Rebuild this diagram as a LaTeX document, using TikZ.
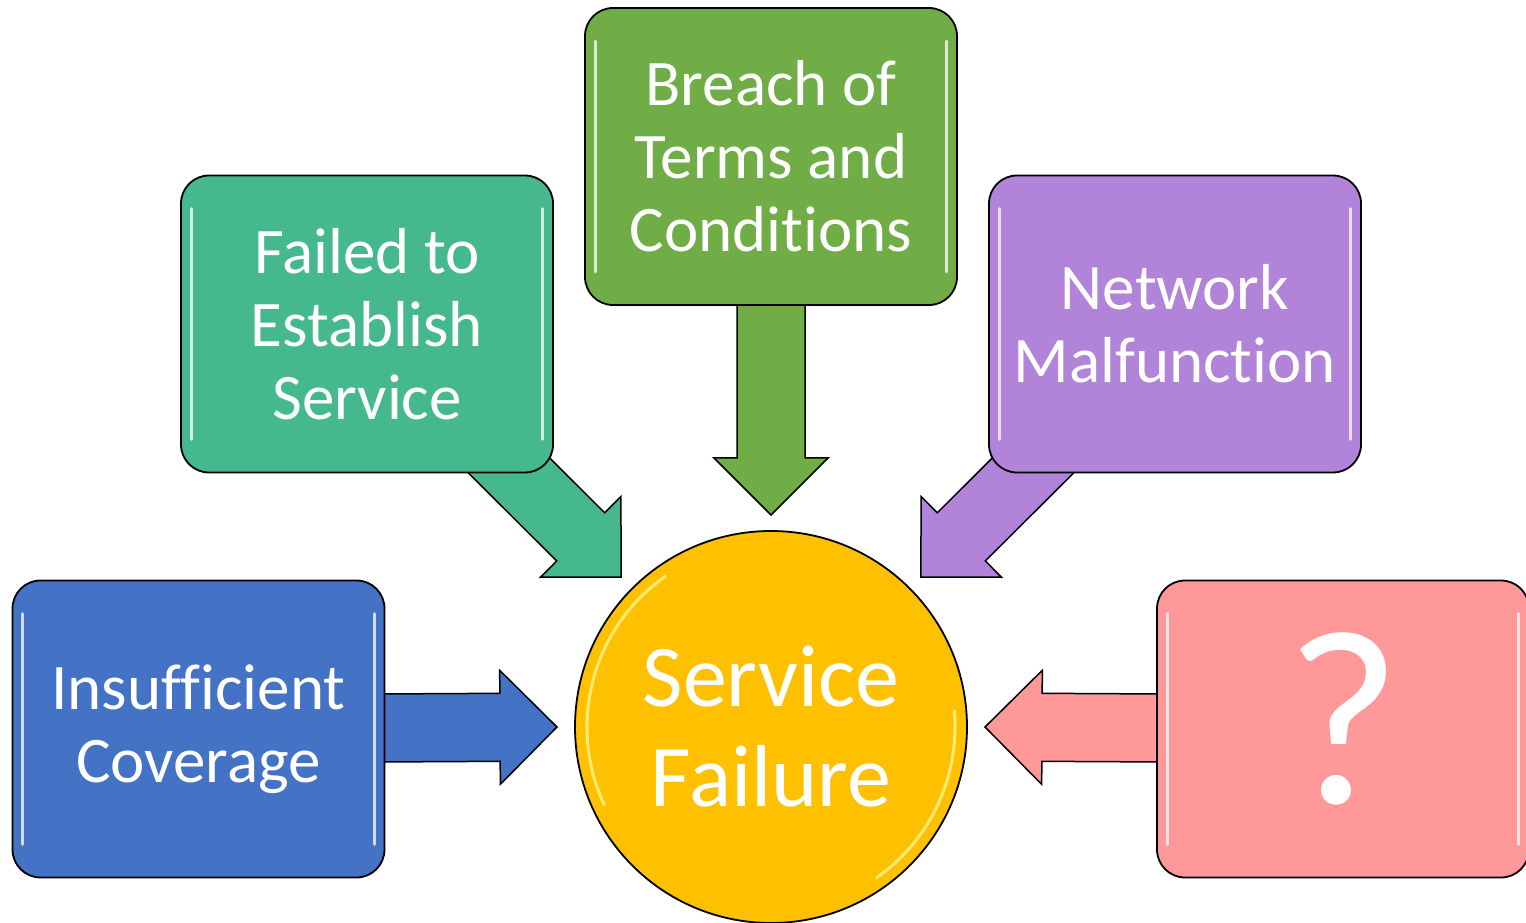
\documentclass[tikz,border=0pt]{standalone}
\usepackage{fontspec}
\setmainfont{Carlito}[Ligatures={NoCommon,NoContextual}, Contextuals=NoAlternate]
\usetikzlibrary{calc}
\definecolor{cblue}{HTML}{4472C4}
\definecolor{cteal}{HTML}{45B98D}
\definecolor{cgreen}{HTML}{70AD47}
\definecolor{cpurple}{HTML}{B183D9}
\definecolor{cpink}{HTML}{FF9999}
\definecolor{cyellow}{HTML}{FFC000}
\newcommand\tbreak{\kern0pt\relax}
\tikzset{
  box/.style={draw=black, line width=1.8pt, rounded corners=28pt, minimum width=372pt,
    minimum height=297pt, inner sep=0pt, align=center, text=white,
    font=\fontsize{65}{73}\selectfont},
  hub/.style={circle, draw=black, line width=1.8pt, fill=cyellow, minimum size=392pt,
    inner sep=0pt, align=center, text=white, font=\fontsize{88}{100}\selectfont},
  arrowline/.style={draw=black, line width=1.5pt, line join=miter},
  shine/.style={white, opacity=0.75, line width=3pt, line cap=round},
  hubshine/.style={yellow!40!white, opacity=0.75, line width=3pt, line cap=round}
}
\newcommand\blockarrow[3]{%
  \filldraw[arrowline, fill=#1] let \p1=($(#3)-(#2)$), \n1={atan2(\y1,\x1)},
    \n2={veclen(\x1,\y1)} in
    (#3) -- ++(\n1+135:80.61) -- ++(\n1-90:23) -- ++(\n1+180:\n2-57)
    -- ++(\n1-90:68) -- ++(\n1:\n2-57) -- ++(\n1-90:23) -- cycle;}
\newcommand\boxshine[1]{%
  \draw[shine] ($(#1.north west)+(11,-34)$) -- ($(#1.south west)+(11,34)$);
  \draw[shine] ($(#1.north east)+(-11,-34)$) -- ($(#1.south east)+(-11,34)$);}
\begin{document}
\begin{tikzpicture}[x=1pt,y=1pt]
\useasboundingbox (0,0) rectangle (1526,922);
% hub and arrow tips
\node[hub] (sf) at (771,195) {Service\\Failure};
\coordinate (t1) at ($(sf.center)+(180:214)$);
\coordinate (t2) at ($(sf.center)+(135:212)$);
\coordinate (t3) at ($(sf.center)+(90:212)$);
\coordinate (t4) at ($(sf.center)+(45:212)$);
\coordinate (t5) at ($(sf.center)+(0:214)$);
\draw[hubshine] ($(sf.center)+(125:184)$) arc[start angle=125, end angle=205, radius=184];
\draw[hubshine] ($(sf.center)+(-55:184)$) arc[start angle=-55, end angle=5, radius=184];
% box positions (for arrows, boxes drawn afterwards)
\coordinate (c1) at (198.5,193);
\coordinate (c2) at (367,598);
\coordinate (c3) at (771,765.5);
\coordinate (c4) at (1175,598);
\coordinate (c5) at (1343,193);
\blockarrow{cblue}{c1}{t1}
\blockarrow{cteal}{c2}{t2}
\blockarrow{cgreen}{c3}{t3}
\blockarrow{cpurple}{c4}{t4}
\blockarrow{cpink}{c5}{t5}
% boxes
\node[box, fill=cblue] (ins) at (c1) {Insufficient\\Coverage};
\node[box, fill=cteal] (fte) at (c2) {Failed to\\Establish\\Service};
\node[box, fill=cgreen] (bot) at (c3) {Breach of\\Terms and\\Condit\tbreak ions};
\node[box, fill=cpurple] (nm) at (c4) {Network\\Malfunct\tbreak ion};
\node[box, fill=cpink, font=\fontsize{250}{250}\selectfont] (unk) at (c5) {\raisebox{22pt}{?}};
\boxshine{ins}
\boxshine{fte}
\boxshine{bot}
\boxshine{nm}
\boxshine{unk}
\end{tikzpicture}
\end{document}
